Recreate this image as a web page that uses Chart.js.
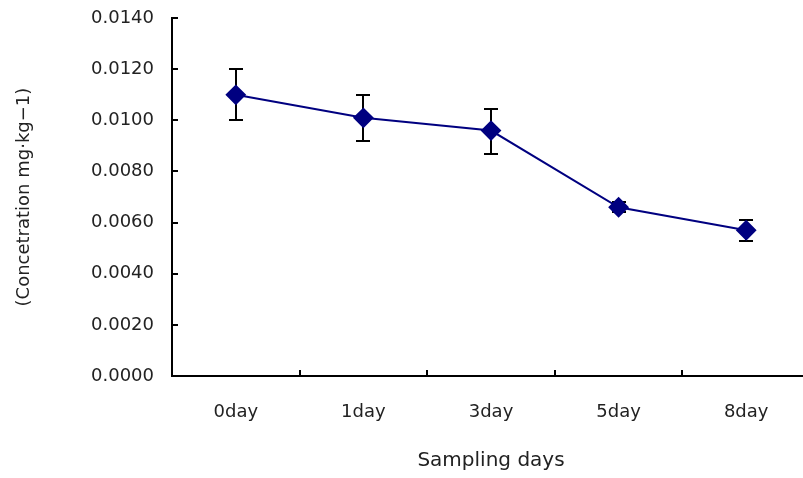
<!DOCTYPE html>
<html>
<head>
<meta charset="utf-8">
<script src="https://cdn.jsdelivr.net/npm/chart.js@4"></script>
<style>
  html, body { margin: 0; padding: 0; background: #fff; overflow: hidden; }
  #wrap { width: 820px; height: 478px; }
</style>
</head>
<body>
<div id="wrap"><canvas id="chart-concentration"></canvas></div>
<script>
const days = ["0day", "1day", "3day", "5day", "8day"]
const concentration = [0.0110, 0.0101, 0.0096, 0.0066, 0.0057]
const errHigh = [0.0120, 0.0110, 0.01045, 0.0068, 0.0061]
const errLow = [0.0100, 0.0092, 0.0087, 0.0064, 0.0053]
const yTicks = [0, 0.002, 0.004, 0.006, 0.008, 0.010, 0.012, 0.014]

const fontFamily = "'DejaVu Sans', sans-serif"

// error bars, drawn from the y scale
const errorBars = {
    id: "errorBars",
    beforeDatasetsDraw(chart) {
        const { ctx, scales: { x, y } } = chart
        ctx.save()
        ctx.strokeStyle = "#000"
        ctx.lineWidth = 2
        days.forEach((d, i) => {
            const px = Math.round(x.getPixelForValue(i))
            const top = Math.round(y.getPixelForValue(errHigh[i]))
            const bot = Math.round(y.getPixelForValue(errLow[i]))
            ctx.beginPath()
            ctx.moveTo(px, top); ctx.lineTo(px, bot)
            ctx.moveTo(px - 7, top); ctx.lineTo(px + 7, top)
            ctx.moveTo(px - 7, bot); ctx.lineTo(px + 7, bot)
            ctx.stroke()
        })
        ctx.restore()
    }
}

// tick marks pointing into the plot
const innerTicks = {
    id: "innerTicks",
    afterDraw(chart) {
        const { ctx, scales: { x, y } } = chart
        ctx.save()
        ctx.strokeStyle = "#000"
        ctx.lineWidth = 2
        ctx.beginPath()
        yTicks.forEach((v) => {
            const py = Math.round(y.getPixelForValue(v))
            ctx.moveTo(x.left, py); ctx.lineTo(x.left + 6, py)
        })
        for (let i = 1; i < days.length; i++) {
            const px = Math.round((x.getPixelForValue(i - 1) + x.getPixelForValue(i)) / 2)
            ctx.moveTo(px, y.bottom); ctx.lineTo(px, y.bottom - 6)
        }
        ctx.stroke()
        ctx.restore()
    }
}

new Chart(document.getElementById("chart-concentration"), {
    type: "line",
    data: {
        labels: days,
        datasets: [{
            label: "Concentration",
            data: concentration,
            borderColor: "#000080",
            backgroundColor: "#000080",
            borderWidth: 2,
            pointStyle: "rectRot",
            pointRadius: 9,
            pointHoverRadius: 9,
            tension: 0
        }]
    },
    options: {
        responsive: true,
        maintainAspectRatio: false,
        animation: false,
        layout: { autoPadding: false, padding: { top: 16, right: 10, left: 0, bottom: 0 } },
        plugins: {
            legend: { display: false },
            tooltip: { enabled: false }
        },
        scales: {
            x: {
                offset: true,
                grid: { display: false },
                border: { display: true, color: "#000", width: 2 },
                ticks: {
                    color: "#222",
                    font: { family: fontFamily, size: 18 },
                    padding: 18
                },
                title: {
                    display: true,
                    text: "Sampling days",
                    color: "#222",
                    font: { family: fontFamily, size: 20 },
                    padding: { top: 0, bottom: 5 }
                },
                afterFit: (s) => { s.height = 102 }
            },
            y: {
                min: 0,
                max: 0.014,
                grid: { display: false },
                border: { display: true, color: "#000", width: 2 },
                ticks: {
                    stepSize: 0.002,
                    color: "#222",
                    font: { family: fontFamily, size: 18, lineHeight: 0.9 },
                    padding: 10,
                    callback: (v) => v.toFixed(4)
                },
                title: {
                    display: true,
                    text: "(Concetration mg·kg−1)",
                    color: "#222",
                    font: { family: fontFamily, size: 18 },
                    padding: { top: 14, bottom: 0 }
                },
                afterFit: (s) => { s.width = 172 }
            }
        }
    },
    plugins: [errorBars, innerTicks]
})
</script>
</body>
</html>
